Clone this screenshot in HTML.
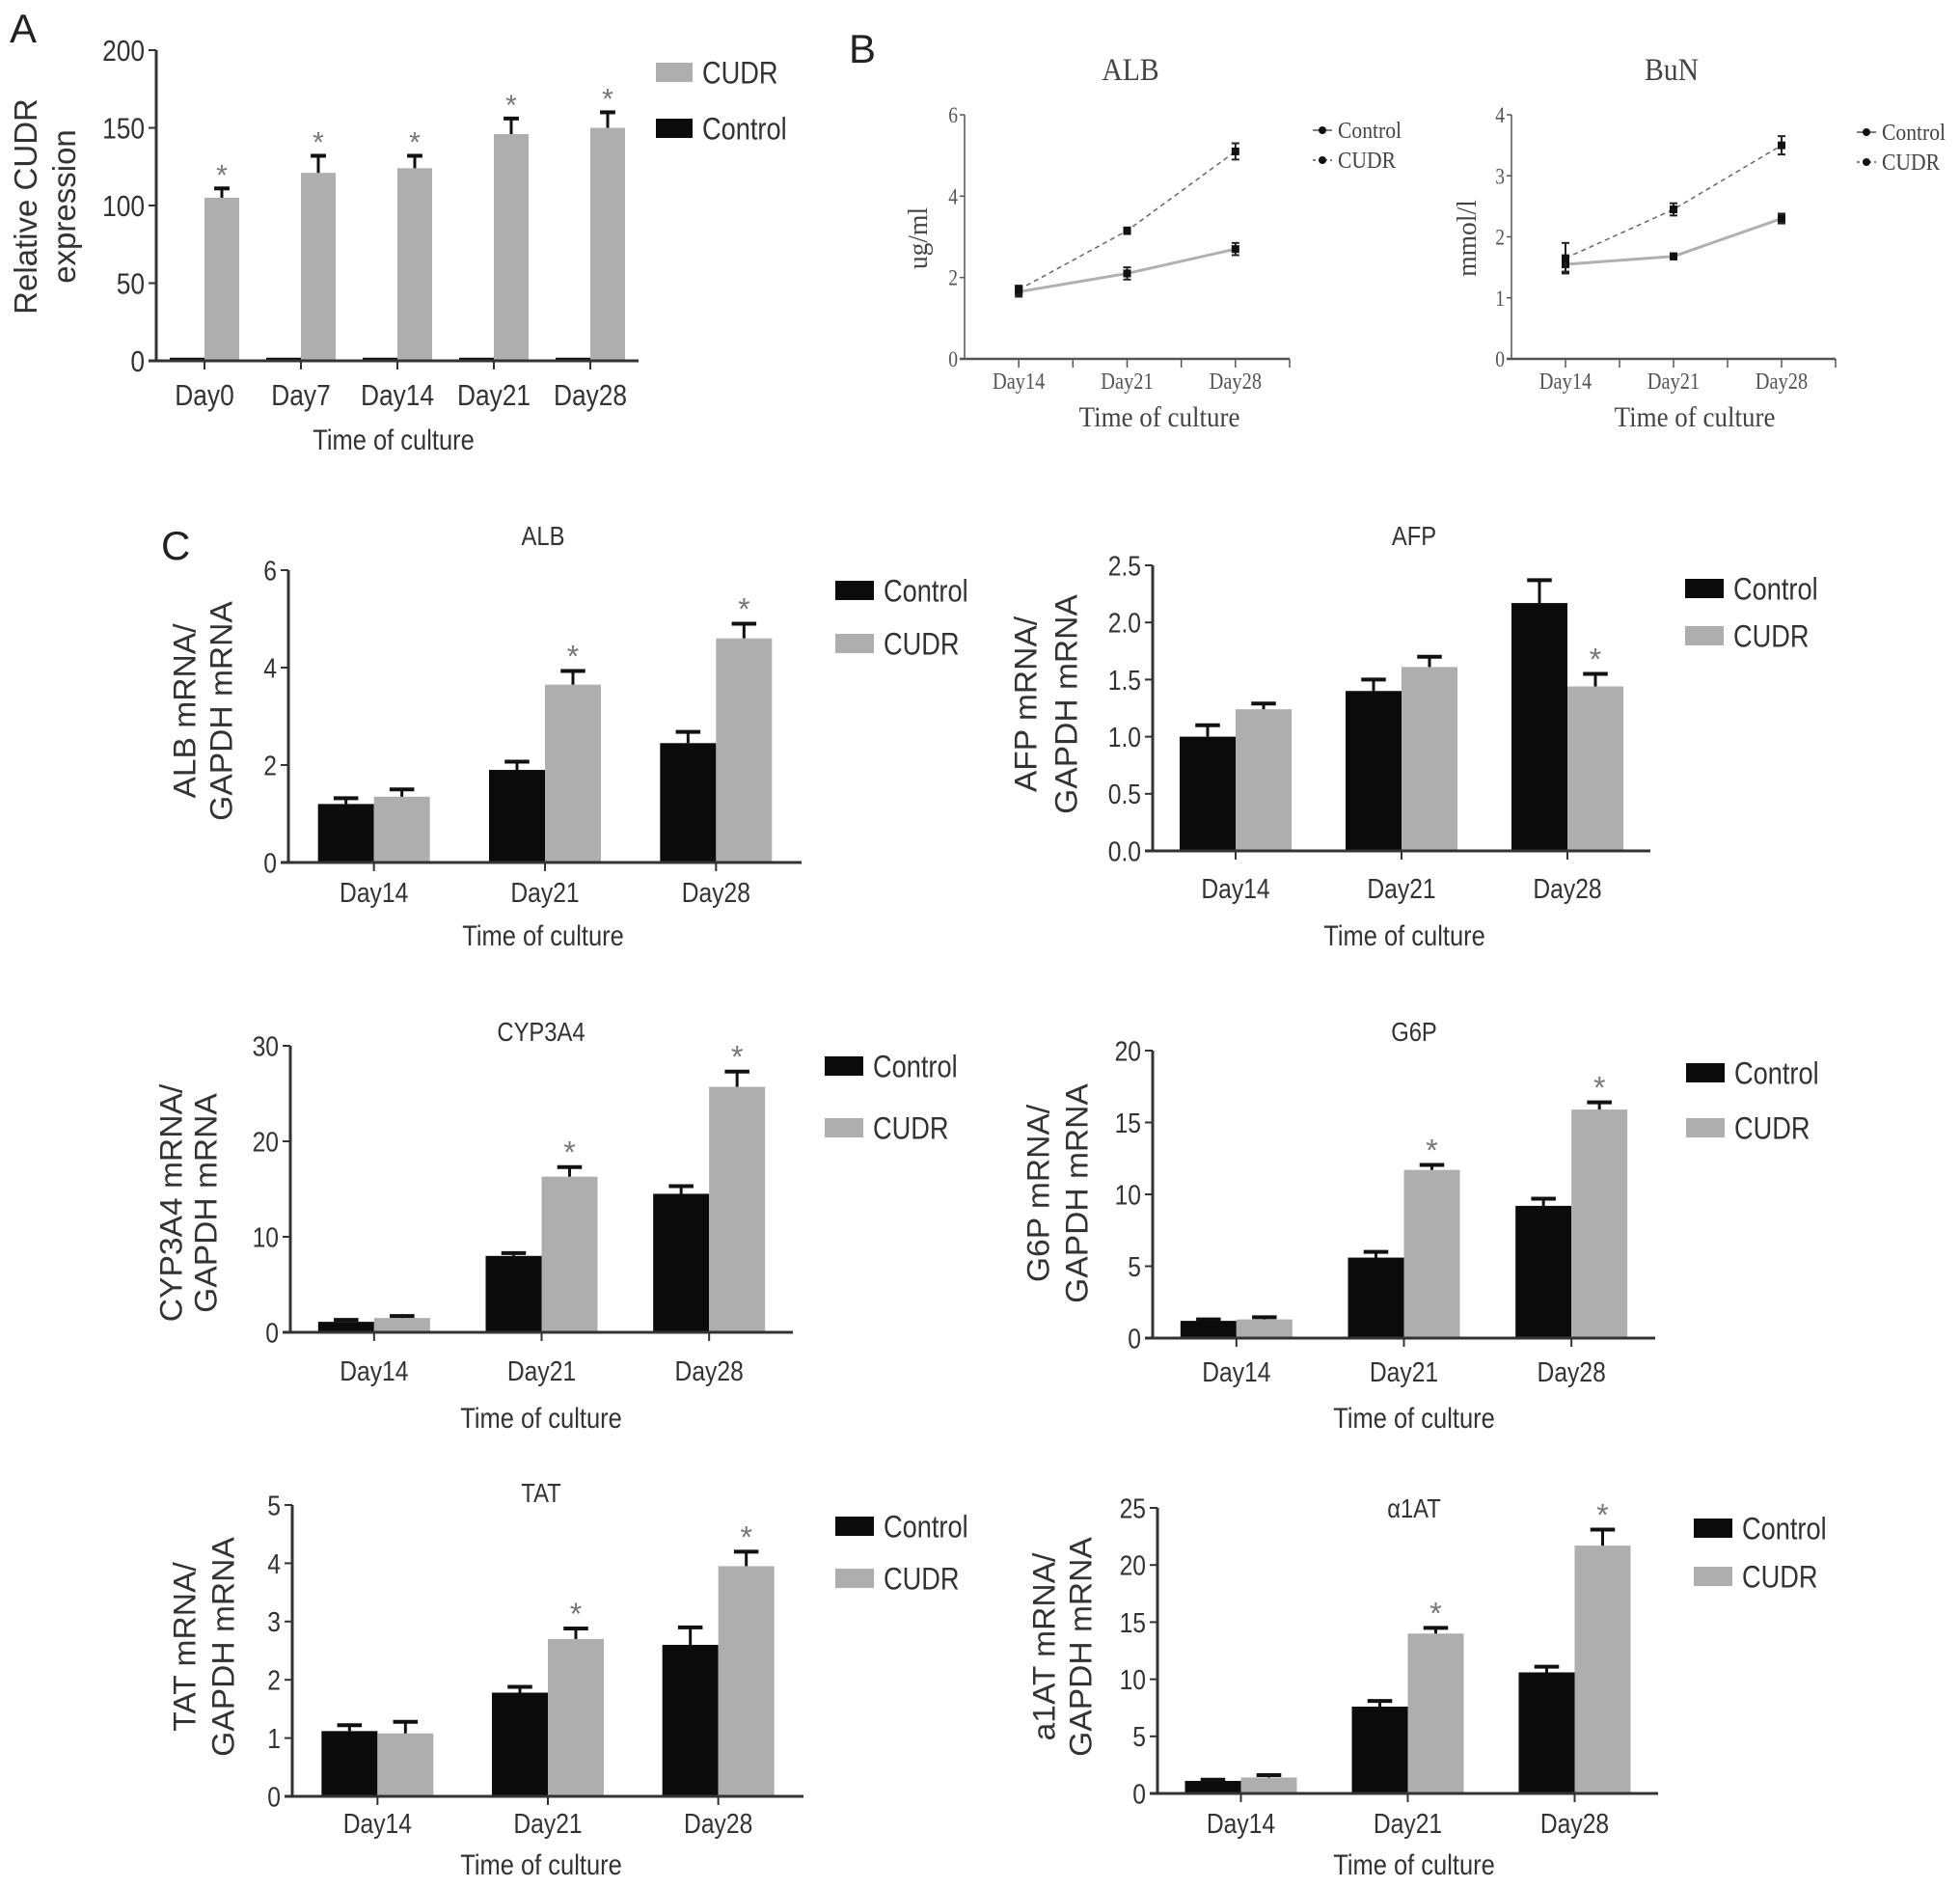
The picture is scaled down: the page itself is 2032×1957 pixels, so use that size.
<!DOCTYPE html>
<html><head><meta charset="utf-8"><style>
html,body{margin:0;padding:0;background:#fff;}
svg{display:block;}
</style></head><body>
<svg id="fig" width="2032" height="1957" viewBox="0 0 2032 1957" xmlns="http://www.w3.org/2000/svg">
<text x="10" y="44" font-family="Liberation Sans, sans-serif" font-size="42" fill="#222">A</text>
<text x="880" y="65" font-family="Liberation Sans, sans-serif" font-size="42" fill="#222">B</text>
<text x="167" y="580" font-family="Liberation Sans, sans-serif" font-size="42" fill="#222">C</text>
</svg>
<script>
// ---------- data ----------
const aCats = ["Day0","Day7","Day14","Day21","Day28"];
const aControl = [2,2,2,2,2];
const aControlErr = [0,0,0,0,0];
const aCudr = [105,121,124,146,150];
const aCudrErr = [6,11,8,10,10];
const aTicks = [0,50,100,150,200];

const bCats = ["Day14","Day21","Day28"];
const bAlbControl = [1.65,2.1,2.7];
const bAlbControlErr = [0.12,0.15,0.15];
const bAlbCudr = [1.7,3.15,5.1];
const bAlbCudrErr = [0.1,0.08,0.2];
const bAlbTicks = [0,2,4,6];
const bBunControl = [1.55,1.68,2.3];
const bBunControlErr = [0.12,0.05,0.08];
const bBunCudr = [1.65,2.45,3.5];
const bBunCudrErr = [0.25,0.1,0.15];
const bBunTicks = [0,1,2,3,4];

const cCats = ["Day14","Day21","Day28"];
const albControl = [1.2,1.9,2.45], albControlErr=[0.12,0.17,0.23];
const albCudr = [1.35,3.65,4.6], albCudrErr=[0.15,0.28,0.3];
const albTicks = ["0","2","4","6"];
const afpControl = [1.0,1.4,2.17], afpControlErr=[0.1,0.1,0.2];
const afpCudr = [1.24,1.61,1.44], afpCudrErr=[0.05,0.09,0.11];
const afpTicks = ["0.0","0.5","1.0","1.5","2.0","2.5"];
const cypControl = [1.1,8.0,14.5], cypControlErr=[0.2,0.3,0.8];
const cypCudr = [1.5,16.3,25.7], cypCudrErr=[0.2,1.0,1.6];
const cypTicks = ["0","10","20","30"];
const g6pControl = [1.2,5.6,9.2], g6pControlErr=[0.1,0.4,0.5];
const g6pCudr = [1.3,11.7,15.9], g6pCudrErr=[0.15,0.35,0.5];
const g6pTicks = ["0","5","10","15","20"];
const tatControl = [1.12,1.78,2.6], tatControlErr=[0.1,0.1,0.3];
const tatCudr = [1.08,2.7,3.95], tatCudrErr=[0.2,0.18,0.25];
const tatTicks = ["0","1","2","3","4","5"];
const a1atControl = [1.1,7.6,10.6], a1atControlErr=[0.1,0.5,0.5];
const a1atCudr = [1.4,14.0,21.7], a1atCudrErr=[0.2,0.5,1.4];
const a1atTicks = ["0","5","10","15","20","25"];

// ---------- helpers ----------
const NS="http://www.w3.org/2000/svg";
const svg=document.getElementById('fig');
function mk(tag,attrs,parent){const e=document.createElementNS(NS,tag);for(const k in attrs)e.setAttribute(k,attrs[k]);(parent||svg).appendChild(e);return e;}
function txt(p,x,y,s,size,anchor,fam,fill,sx,rot){
  const t=mk('text',{'font-family':fam||'Liberation Sans, sans-serif','font-size':size,'text-anchor':anchor||'middle',fill:fill||'#333',
    transform:'translate('+x+','+y+')'+(rot?' rotate(-90)':'')+' scale('+(sx||0.85)+',1)'},p);
  t.textContent=s;return t;}

function barPanel(name,o,cats,ctrl,ctrlErr,cudr,cudrErr,stars,ticks,tmax){
  const g=mk('g',{});
  
  
  const n=cats.length, band=(o.xEnd-o.x0)/n;
  const xc=i=>o.x0+(i+0.5)*band;
  const ys=v=>o.y0-(v/tmax)*(o.y0-o.yTop);
  const bw=o.bw;
  const series=[[ctrl,ctrlErr,'#0b0b0b',-1,'control'],[cudr,cudrErr,o.grey||'#aeaeae',0,'cudr']];
  series.forEach(([vals,errs,col,off,sn])=>{
    vals.forEach((v,i)=>{
      const x=xc(i)+off*bw, y=ys(v);
      const r=mk('rect',{x:x,y:y,width:bw,height:o.y0-y,fill:col},g);
      
      
      if(errs[i]>0){
        const ye=ys(v+errs[i]);
        mk('line',{x1:x+bw/2,x2:x+bw/2,y1:y,y2:ye,stroke:'#111','stroke-width':3},g);
        mk('line',{x1:x+bw/2-bw*0.22,x2:x+bw/2+bw*0.22,y1:ye,y2:ye,stroke:'#111','stroke-width':4},g);
      }
      if(sn==='cudr'&&stars[i]){
        const st=txt(g,x+bw/2,ys(v+errs[i])-4,'*',o.starSize||30,'middle',null,'#777',1);
        
        
      }
    });
  });
  mk('line',{x1:o.x0,x2:o.x0,y1:o.yTop,y2:o.y0,stroke:'#333','stroke-width':3},g);
  mk('line',{x1:o.x0-8,x2:o.xEnd,y1:o.y0,y2:o.y0,stroke:'#333','stroke-width':3},g);
  ticks.forEach(t=>{
    const y=ys(parseFloat(t));
    mk('line',{x1:o.x0-8,x2:o.x0,y1:y,y2:y,stroke:'#333','stroke-width':2},g);
    const l=txt(g,o.x0-12,y+o.tick*0.36,t,o.tick,'end');
    
    
  });
  cats.forEach((c,i)=>{
    mk('line',{x1:xc(i),x2:xc(i),y1:o.y0,y2:o.y0+9,stroke:'#333','stroke-width':2},g);
    const l=txt(g,xc(i)+(o.catDx||0),o.catY,c,o.cat,'middle');
    
    
  });
  const xt=txt(g,o.timeX,o.timeY,'Time of culture',o.time,'middle');
  
  
  if(o.title){
    const tt=txt(g,o.titleX,o.titleY,o.title,o.titleSize,'middle');
    
    
  }
  o.ylab.forEach((s,k)=>{
    const yl=txt(g,o.ylabX[k]+o.ylabSize*0.36,o.ylabY,s,o.ylabSize,'middle',null,'#333',o.ylabSx||1.05,true);
    
    
  });
  o.legend.forEach(([label,col,ly])=>{
    const sw=mk('rect',{x:o.legX,y:ly-10,width:o.legW,height:20,fill:col},g);
    
    
    const lt=txt(g,o.legX+o.legW+10,ly+o.legSize*0.36,label,o.legSize,'start');
    
    
  });
}

// Panel A
barPanel('cudr-expression',{x0:162,xEnd:662,y0:374,yTop:52,bw:36,tick:31,cat:31,catY:420,time:30,timeX:408,timeY:466,
  ylab:['Relative CUDR','expression'],ylabX:[26,66],ylabY:214,ylabSize:33,ylabSx:1.0,
  legX:680,legW:38,legSize:32,legend:[['CUDR','#aeaeae',75],['Control','#0b0b0b',133]],starSize:30},
  aCats,aControl,aControlErr,aCudr,aCudrErr,[1,1,1,1,1],aTicks.map(String),200);

const cBase={bw:58,tick:29,cat:29,time:30,titleSize:28,ylabSize:32,legW:40,legSize:32,starSize:32};
function C(o){return Object.assign({},cBase,o);}
barPanel('alb-mrna',C({x0:299,xEnd:831,y0:894,yTop:591,catY:935,timeX:563,timeY:980,title:'ALB',titleX:563,titleY:565,
  ylab:['ALB mRNA/','GAPDH mRNA'],ylabX:[191,229],ylabY:737,legX:866,legend:[['Control','#0b0b0b',612],['CUDR','#aeaeae',667]]}),
  cCats,albControl,albControlErr,albCudr,albCudrErr,[0,1,1],albTicks,6);
barPanel('afp-mrna',C({x0:1195,xEnd:1711,y0:882,yTop:586,catY:931,timeX:1456,timeY:980,title:'AFP',titleX:1466,titleY:565,
  ylab:['AFP mRNA/','GAPDH mRNA'],ylabX:[1063,1105],ylabY:730,legX:1747,legend:[['Control','#0b0b0b',610],['CUDR','#aeaeae',659]]}),
  cCats,afpControl,afpControlErr,afpCudr,afpCudrErr,[0,0,1],afpTicks,2.5);
barPanel('cyp3a4-mrna',C({x0:301,xEnd:822,y0:1381,yTop:1084,catY:1431,timeX:561,timeY:1480,title:'CYP3A4',titleX:561,titleY:1079,
  ylab:['CYP3A4 mRNA/','GAPDH mRNA'],ylabX:[177,213],ylabY:1247,legX:855,legend:[['Control','#0b0b0b',1105],['CUDR','#aeaeae',1169]]}),
  cCats,cypControl,cypControlErr,cypCudr,cypCudrErr,[0,1,1],cypTicks,30);
barPanel('g6p-mrna',C({x0:1195,xEnd:1716,y0:1387,yTop:1089,catY:1432,timeX:1466,timeY:1480,title:'G6P',titleX:1466,titleY:1079,
  ylab:['G6P mRNA/','GAPDH mRNA'],ylabX:[1076,1116],ylabY:1237,legX:1748,legend:[['Control','#0b0b0b',1112],['CUDR','#aeaeae',1169]]}),
  cCats,g6pControl,g6pControlErr,g6pCudr,g6pCudrErr,[0,1,1],g6pTicks,20);
barPanel('tat-mrna',C({x0:303,xEnd:833,y0:1862,yTop:1560,catY:1900,timeX:561,timeY:1943,title:'TAT',titleX:561,titleY:1557,
  ylab:['TAT mRNA/','GAPDH mRNA'],ylabX:[191,231],ylabY:1707,legX:866,legend:[['Control','#0b0b0b',1582],['CUDR','#aeaeae',1636]]}),
  cCats,tatControl,tatControlErr,tatCudr,tatCudrErr,[0,1,1],tatTicks,5);
barPanel('a1at-mrna',C({x0:1200,xEnd:1719,y0:1859,yTop:1563,catY:1900,timeX:1466,timeY:1943,title:'\u03b11AT',titleX:1466,titleY:1573,
  ylab:['a1AT mRNA/','GAPDH mRNA'],ylabX:[1082,1120],ylabY:1707,legX:1756,legend:[['Control','#0b0b0b',1584],['CUDR','#aeaeae',1634]]}),
  cCats,a1atControl,a1atControlErr,a1atCudr,a1atCudrErr,[0,1,1],a1atTicks,25);

function linePanel(name,o,cats,ctrl,ctrlErr,cudr,cudrErr,ticks,tmax){
  const g=mk('g',{});
  
  
  const SER='Liberation Serif, serif';
  const n=cats.length, band=(o.xEnd-o.x0)/n;
  const xc=i=>o.x0+(i+0.5)*band;
  const ys=v=>o.y0-(v/tmax)*(o.y0-o.yTop);
  mk('line',{x1:o.x0,x2:o.x0,y1:o.yTop,y2:o.y0,stroke:'#555','stroke-width':1.5},g);
  mk('line',{x1:o.x0-5,x2:o.xEnd,y1:o.y0,y2:o.y0,stroke:'#555','stroke-width':2.5},g);
  ticks.forEach(t=>{const y=ys(t);
    mk('line',{x1:o.x0-5,x2:o.x0,y1:y,y2:y,stroke:'#555','stroke-width':1.5},g);
    const l=txt(g,o.x0-7,y+8,String(t),23,'end',SER,'#555',0.85);
    
    });
  for(let k=1;k<=2*n;k++){const x=o.x0+k*band/2;
    mk('line',{x1:x,x2:x,y1:o.y0,y2:o.y0+9,stroke:'#555','stroke-width':1.5},g);}
  cats.forEach((c,i)=>{const l=txt(g,xc(i),o.y0+31,c,24,'middle',SER,'#555',0.85);
    
    });
  const xt=txt(g,o.timeX,o.y0+70,'Time of culture',30,'middle',SER,'#444',0.9);
  
  
  const tt=txt(g,o.titleX,83,o.title,33,'middle',SER,'#444',0.9);
  
  
  const yl=txt(g,o.ylabX+10,o.ylabY,o.ylab,29,'middle',SER,'#444',0.95,true);
  
  
  const series=[[ctrl,ctrlErr,'#b0b0b0',3,null,'control'],[cudr,cudrErr,'#666',1.5,'5,4','cudr']];
  series.forEach(([vals,errs,col,w,dash,sn])=>{
    const pts=vals.map((v,i)=>xc(i)+','+ys(v)).join(' ');
    const pl=mk('polyline',{points:pts,fill:'none',stroke:col,'stroke-width':w},g);
    if(dash)pl.setAttribute('stroke-dasharray',dash);
    
    
    vals.forEach((v,i)=>{const x=xc(i),y=ys(v),e=ys(v+errs[i]),e2=ys(v-errs[i]);
      mk('line',{x1:x,x2:x,y1:e,y2:e2,stroke:'#222','stroke-width':2},g);
      mk('line',{x1:x-4,x2:x+4,y1:e,y2:e,stroke:'#222','stroke-width':2},g);
      mk('line',{x1:x-4,x2:x+4,y1:e2,y2:e2,stroke:'#222','stroke-width':2},g);
      const m=mk('rect',{x:x-4,y:y-4,width:8,height:8,fill:'#111'},g);
      
      });
  });
  [['Control',o.legY[0],null],['CUDR',o.legY[1],'3,3']].forEach(([lab,ly,d])=>{
    const ln=mk('line',{x1:o.legX-10,x2:o.legX+10,y1:ly,y2:ly,stroke:'#555','stroke-width':1.5},g);
    if(d)ln.setAttribute('stroke-dasharray',d);
    mk('circle',{cx:o.legX,cy:ly,r:4,fill:'#111'},g);
    const lt=txt(g,o.legX+16,ly+8,lab,24,'start',SER,'#444',0.9);
    
    
  });
}
linePanel('alb-secretion',{x0:1000,xEnd:1337,y0:372,yTop:119,timeX:1202,titleX:1172,title:'ALB',ylab:'ug/ml',ylabX:951,ylabY:247,legX:1371,legY:[135,166]},
  bCats,bAlbControl,bAlbControlErr,bAlbCudr,bAlbCudrErr,bAlbTicks,6);
linePanel('bun-secretion',{x0:1567,xEnd:1903,y0:372,yTop:119,timeX:1757,titleX:1733,title:'BuN',ylab:'mmol/l',ylabX:1520,ylabY:247,legX:1935,legY:[137,168]},
  bCats,bBunControl,bBunControlErr,bBunCudr,bBunCudrErr,bBunTicks,4);
</script>
</body></html>
